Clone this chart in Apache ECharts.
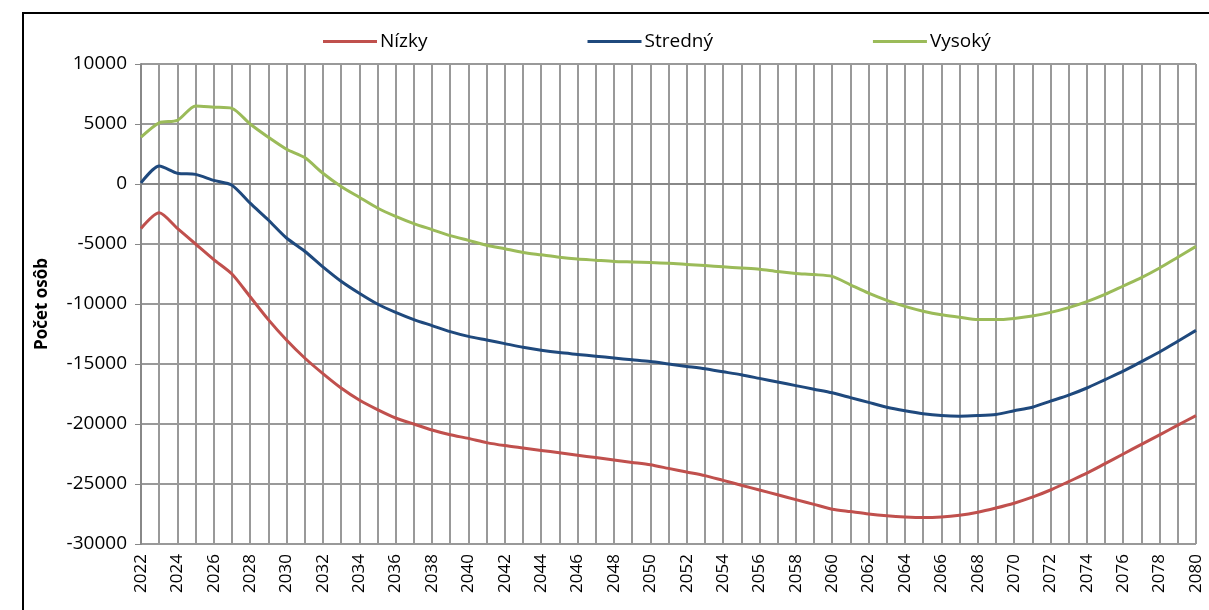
<!DOCTYPE html>
<html lang="sk">
  <head>
    <meta charset="UTF-8" />
    <title>Počet osôb</title>
    <script src="https://cdn.jsdelivr.net/npm/echarts@6/dist/echarts.min.js"></script>
    <style>
      html, body { margin: 0; padding: 0; background: #fff; }
      #frame { position: absolute; left: 22px; top: 12px; width: 1200px; height: 620px; border: 2px solid #000; box-sizing: border-box; }
      #chart { position: absolute; left: 0; top: 0; width: 1209px; height: 610px; }
    </style>
  </head>
  <body>
    <div id="frame"></div>
    <div id="chart"></div>
    <script>
      const years = [];
      for (let y = 2022; y <= 2080; y++) years.push(String(y));

      const nizky = [-3700, -2400, -3700, -5000, -6300, -7500, -9400, -11300, -13000, -14500,
        -15800, -17000, -18000, -18800, -19500, -20000, -20500, -20900, -21200, -21550,
        -21800, -22000, -22200, -22400, -22600, -22800, -23000, -23200, -23400, -23700,
        -24000, -24300, -24700, -25100, -25500, -25900, -26300, -26700, -27100, -27300,
        -27500, -27650, -27750, -27800, -27750, -27600, -27350, -27000, -26600, -26100,
        -25500, -24800, -24100, -23300, -22500, -21700, -20900, -20100, -19300];

      const stredny = [100, 1500, 900, 800, 300, -100, -1600, -3000, -4500, -5600,
        -6900, -8100, -9100, -10000, -10700, -11300, -11800, -12300, -12700, -13000,
        -13300, -13600, -13850, -14050, -14200, -14350, -14500, -14650, -14800, -15000,
        -15200, -15400, -15650, -15900, -16200, -16500, -16800, -17100, -17400, -17800,
        -18200, -18600, -18900, -19150, -19300, -19350, -19300, -19200, -18900, -18600,
        -18100, -17600, -17000, -16300, -15600, -14800, -14000, -13100, -12200];

      const vysoky = [3900, 5100, 5300, 6500, 6400, 6300, 5000, 3900, 2900, 2200,
        900, -200, -1100, -2000, -2700, -3300, -3800, -4300, -4700, -5100,
        -5400, -5700, -5900, -6100, -6250, -6350, -6450, -6500, -6550, -6600,
        -6700, -6800, -6900, -7000, -7100, -7300, -7450, -7550, -7700, -8400,
        -9100, -9700, -10200, -10600, -10900, -11100, -11300, -11300, -11200, -11000,
        -10700, -10300, -9800, -9200, -8500, -7800, -7000, -6100, -5200];

      const font = "'Open Sans', 'Noto Sans', sans-serif";
      const chart = echarts.init(document.getElementById("chart"), null, { renderer: "canvas" });

      function line(name, data, color) {
        return { name: name, type: "line", data: data, symbol: "none", smooth: 0.25,
          lineStyle: { color: color, width: 3 }, itemStyle: { color: color } };
      }

      chart.setOption({
        animation: false,
        textStyle: { fontFamily: font },
        legend: {
          top: 27, left: 318, itemGap: 160, itemWidth: 54, itemHeight: 3,
          icon: "rect",
          textStyle: { fontSize: 19, color: "#000", fontFamily: font, padding: [0, 0, 0, -2] },
          data: ["Nízky", "Stredný", "Vysoký"]
        },
        grid: { left: 141, right: 13, top: 64, bottom: 66 },
        xAxis: {
          type: "category", data: years, boundaryGap: false,
          axisLine: { lineStyle: { color: "#888", width: 2 } },
          axisTick: { show: false },
          axisLabel: { interval: 1, rotate: 90, fontSize: 17, color: "#000", margin: 10, fontFamily: font },
          splitLine: { show: true, interval: 0, lineStyle: { color: "#999", width: 2 } }
        },
        yAxis: {
          type: "value", min: -30000, max: 10000, interval: 5000,
          name: "Počet osôb", nameLocation: "middle", nameGap: 90, nameRotate: 90,
          nameTextStyle: { fontSize: 17, fontWeight: "bold", color: "#000", fontFamily: font },
          axisLine: { show: true, lineStyle: { color: "#888", width: 2 } },
          axisTick: { show: true, length: 6, lineStyle: { color: "#888" } },
          axisLabel: { fontSize: 19, color: "#000", margin: 14, fontFamily: font,
            formatter: function (v) { return String(v); } },
          splitLine: { lineStyle: { color: "#999", width: 2 } }
        },
        series: [
          line("Nízky", nizky, "#c0504d"),
          line("Stredný", stredny, "#1f497d"),
          line("Vysoký", vysoky, "#9bbb59")
        ]
      });
    </script>
  </body>
</html>
